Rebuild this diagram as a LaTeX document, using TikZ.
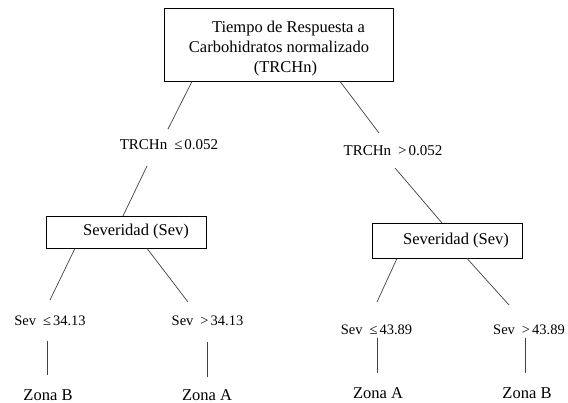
\documentclass[tikz,border=0pt]{standalone}
\usepackage{fontspec}
\setmainfont{Liberation Serif}
\begin{document}
\begin{tikzpicture}[x=1pt,y=-1pt,
  box/.style={draw,line width=0.8pt,inner sep=0pt,font=\fontsize{16.5}{20}\selectfont},
  big/.style={inner sep=0pt,font=\fontsize{16.5}{20}\selectfont},
  cond/.style={inner sep=0pt,font=\fontsize{15}{17}\selectfont},
  sevlab/.style={inner sep=0pt,font=\fontsize{14.5}{17}\selectfont},
  edge/.style={line width=0.7pt,draw=black!75}]
\useasboundingbox (0,0) rectangle (568,403);
% boxes
\node[box,minimum width=229pt,minimum height=73pt] (root) at (278.5,44.5) {};
\node[big,align=center] (rootText) at (279,48.5)
  {\hspace*{19pt}Tiempo de Respuesta a\\Carbohidratos normalizado\\\hspace*{13pt}(TRCHn)};
\node[box,minimum width=160pt,minimum height=32pt] (sevL) at (126,232) {\hspace*{20pt}Severidad (Sev)};
\node[box,minimum width=150pt,minimum height=35pt] (sevR) at (447,240.5) {\hspace*{18pt}Severidad (Sev)};
% condition labels
\node[cond] (cL) at (169,145) {TRCHn\hspace{7pt}≤\hspace{2pt}0.052};
\node[cond] (cR) at (393,151) {TRCHn\hspace{7pt}>\hspace{2pt}0.052};
\node[sevlab] (sL1) at (50,321) {Sev\hspace{7pt}≤\hspace{2pt}34.13};
\node[sevlab] (sL2) at (207.5,321) {Sev\hspace{7pt}>\hspace{2pt}34.13};
\node[sevlab] (sR1) at (376.5,330) {Sev\hspace{7pt}≤\hspace{2pt}43.89};
\node[sevlab] (sR2) at (529,330) {Sev\hspace{7pt}>\hspace{2pt}43.89};
% leaves
\node[big] (zL1) at (48,395) {Zona B};
\node[big] (zL2) at (207,395) {Zona A};
\node[big] (zR1) at (378,393) {Zona A};
\node[big] (zR2) at (527,393) {Zona B};
% connector end points
\coordinate (root-l) at ([xshift=-86.5pt]root.south);
\coordinate (root-r) at ([xshift=61.5pt]root.south);
\coordinate (cL-in) at (168,129);
\coordinate (cL-out) at (147,166);
\coordinate (sevL-in) at (123,216);
\coordinate (cR-in) at (379,133);
\coordinate (cR-out) at (395,168);
\coordinate (sevR-in) at (442,223);
\coordinate (sevL-l) at ([xshift=-51pt]sevL.south);
\coordinate (sevL-r) at ([xshift=21pt]sevL.south);
\coordinate (sL1-in) at (50,300);
\coordinate (sL2-in) at (188,302);
\coordinate (sL1-out) at (47,341);
\coordinate (zL1-in) at (47,375);
\coordinate (sL2-out) at (207,342);
\coordinate (zL2-in) at (207,377);
\coordinate (sevR-l) at ([xshift=-50pt]sevR.south);
\coordinate (sevR-r) at ([xshift=20pt]sevR.south);
\coordinate (sR1-in) at (377,302);
\coordinate (sR2-in) at (509,305);
\coordinate (sR1-out) at (377,338);
\coordinate (zR1-in) at (377,373);
\coordinate (sR2-out) at (525,338);
\coordinate (zR2-in) at (525,373);
% connectors
\draw[edge] (root-l) -- (cL-in);
\draw[edge] (cL-out) -- (sevL-in);
\draw[edge] (root-r) -- (cR-in);
\draw[edge] (cR-out) -- (sevR-in);
\draw[edge] (sevL-l) -- (sL1-in);
\draw[edge] (sevL-r) -- (sL2-in);
\draw[edge] (sL1-out) -- (zL1-in);
\draw[edge] (sL2-out) -- (zL2-in);
\draw[edge] (sevR-l) -- (sR1-in);
\draw[edge] (sevR-r) -- (sR2-in);
\draw[edge] (sR1-out) -- (zR1-in);
\draw[edge] (sR2-out) -- (zR2-in);
\end{tikzpicture}
\end{document}
